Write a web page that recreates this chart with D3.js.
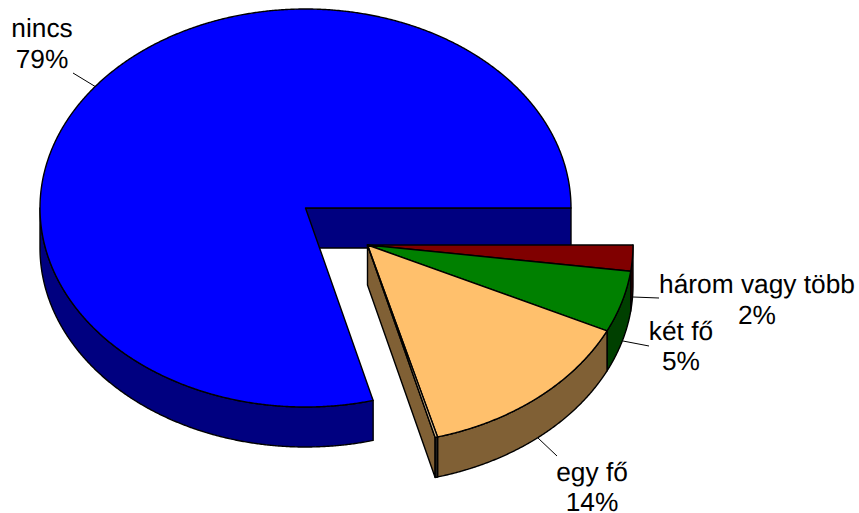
<!DOCTYPE html>
<html><head><meta charset="utf-8">
<script src="https://cdn.jsdelivr.net/npm/d3@7/dist/d3.min.js"></script>
<style>html,body{margin:0;padding:0;background:#fff}svg{display:block}text{font-family:"Liberation Sans",Arial,sans-serif;font-size:26.3px;fill:#000;text-rendering:geometricPrecision}</style>
</head><body><script>
const categories = ["három vagy több", "két fő", "egy fő", "", "nincs"];
const values = [2.1, 5, 13.65, 0.15, 79.1];
const percentLabels = ["2%", "5%", "14%", "", "79%"];
const topColors = ["#800000", "#008000", "#FFC06C", "#E8C89A", "#0000FF"];
const wallColors = ["#400000", "#004000", "#806035", "#222222", "#000080"];

const W = 859, H = 513, depth = 40, rx = 265.5, ry = 199;
const mainC = [305.5, 208], explC = [367.5, 245];
const labelPos = [[757, 293], [681, 339.5], [592, 480.5], null, [42, 37]];
const leaders = [[[633, 297], [659, 298]], [[623, 341], [649, 346]], [[538, 438], [557, 456]], null, [[96, 87], [73, 73]]];

const svg = d3.select("body").append("svg").attr("width", W).attr("height", H);
const pie = d3.pie().sort(null).startAngle(Math.PI / 2).endAngle(Math.PI * 2.5);
const arcs = pie(values);
const sx = d3.scaleLinear().domain([-1, 1]).range([-rx, rx]);
const sy = d3.scaleLinear().domain([-1, 1]).range([-ry, ry]);
const pt = (c, a, dz = 0) => [c[0] + sx(Math.sin(a)), c[1] + sy(-Math.cos(a)) + dz];
const steps = (a0, a1) => { const n = Math.max(2, Math.ceil((a1 - a0) / 0.005)); return d3.range(n + 1).map(i => a0 + (a1 - a0) * i / n); };
const line = d3.line();
const topPath = (c, a) => line([c, ...steps(a.startAngle, a.endAngle).map(t => pt(c, t))]) + "Z";
const outerWall = (c, a0, a1) => { const s = steps(a0, a1); return line([...s.map(t => pt(c, t)), ...s.slice().reverse().map(t => pt(c, t, depth))]) + "Z"; };
const cutWall = (c, a) => { const p = pt(c, a); return line([c, p, [p[0], p[1] + depth], [c[0], c[1] + depth]]) + "Z"; };
const frontHi = Math.PI * 1.5;
const style = (sel, f) => sel.attr("fill", f).attr("stroke", "#000").attr("stroke-width", 1.4).attr("stroke-linejoin", "round");

leaders.forEach(l => { if (l) svg.append("path").attr("d", line(l)).attr("stroke", "#000").attr("stroke-width", 1).attr("fill", "none"); });

// main slice
const m = arcs[4];
style(svg.append("path").attr("d", cutWall(mainC, m.endAngle)), wallColors[4]);
style(svg.append("path").attr("d", outerWall(mainC, m.startAngle, frontHi)), wallColors[4]);
style(svg.append("path").attr("d", topPath(mainC, m)), topColors[4]);

// exploded slices: cut face, then outer walls, then tops
const last = arcs[3];
style(svg.append("path").attr("d", cutWall(explC, last.endAngle)), wallColors[2]);
arcs.slice(0, 4).forEach((a, i) => style(svg.append("path").attr("d", outerWall(explC, a.startAngle, a.endAngle)), wallColors[i]));
arcs.slice(0, 4).forEach((a, i) => style(svg.append("path").attr("d", topPath(explC, a)), topColors[i]));

categories.forEach((c, i) => {
  if (!labelPos[i]) return;
  svg.append("text").attr("text-anchor", "middle").attr("x", labelPos[i][0]).attr("y", labelPos[i][1]).text(c);
  svg.append("text").attr("text-anchor", "middle").attr("x", labelPos[i][0]).attr("y", labelPos[i][1] + 30.5).text(percentLabels[i]);
});
</script></body></html>
